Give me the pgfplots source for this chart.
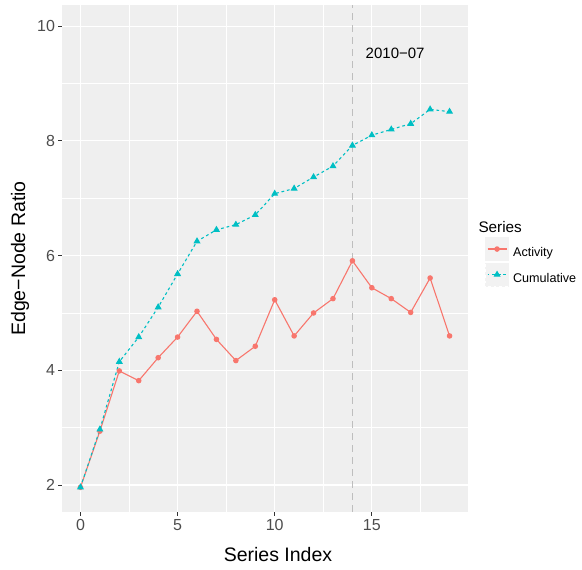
\documentclass[border=0pt]{standalone}
\usepackage{pgfplots}
\usepackage{pgfplotstable}
\pgfplotsset{compat=1.18}
\usepackage{fontspec}
\setmainfont{Liberation Sans}

\definecolor{panel}{HTML}{EFEFEF}
\definecolor{keybg}{HTML}{F2F2F2}
\definecolor{actcol}{HTML}{F8766D}
\definecolor{cumcol}{HTML}{00BFC4}
\definecolor{ticktext}{HTML}{4D4D4D}
\definecolor{tickmark}{HTML}{333333}
\definecolor{vline}{HTML}{BEBEBE}

% Edge-node ratio per snapshot: per-period activity and cumulative graph
\pgfplotstableread{
idx activity cumulative
0  1.96 1.96
1  2.94 2.97
2  3.99 4.15
3  3.82 4.58
4  4.22 5.10
5  4.58 5.68
6  5.03 6.25
7  4.54 6.45
8  4.17 6.54
9  4.42 6.71
10 5.23 7.08
11 4.60 7.17
12 5.00 7.37
13 5.25 7.56
14 5.91 7.92
15 5.44 8.10
16 5.25 8.20
17 5.01 8.30
18 5.61 8.55
19 4.60 8.51
}\ratios

\begin{document}
\begin{tikzpicture}
\begin{axis}[
  name=ax, at={(0,0)}, anchor=south west,
  scale only axis, width=406bp, height=507bp,
  xmin=-0.95, xmax=19.95, ymin=1.53, ymax=10.37,
  xtick={0,5,10,15}, ytick={2,4,6,8,10},
  minor xtick={2.5,7.5,12.5,17.5}, minor ytick={3,5,7,9},
  grid=both,
  major grid style={white, line width=1.1bp},
  minor grid style={white, line width=0.55bp},
  axis background/.style={fill=panel},
  axis line style={draw=none},
  tick pos=left, tick align=outside,
  major tick length=3.5bp, minor tick length=0pt,
  tick style={color=tickmark, line width=0.9bp},
  /pgf/number format/assume math mode=true,
  ticklabel style={font=\fontsize{16bp}{19bp}\selectfont, text=ticktext},
  xlabel={Series Index}, ylabel={Edge−Node Ratio},
  label style={font=\fontsize{19.5bp}{23bp}\selectfont},
  xlabel style={at={(axis description cs:0.532,-0.0986)}, anchor=base},
  ylabel style={at={(axis description cs:-0.0911,0.5)}, anchor=base},
  legend cell align=left,
  legend style={
    at={(axis description cs:1.0419,0.5424)}, anchor=north west,
    draw=none, fill=none, inner sep=0pt, outer sep=0pt,
    nodes={inner sep=0pt, font=\fontsize{12.6bp}{15bp}\selectfont},
    column sep=4bp, row sep=1.5bp},
  legend image code/.code={
    \fill[keybg] (0bp,-7.5bp) rectangle (23bp,15.5bp);
    \draw[mark repeat=2, mark phase=2, dash phase=1bp, #1]
      plot coordinates {(2bp,4bp) (11.5bp,4bp) (21bp,4bp)};
  },
]
% reference line at the 2010-07 snapshot
\addplot[vline, line width=1.1bp, dash pattern=on 7bp off 5bp, forget plot]
  coordinates {(14,1.53) (14,10.37)};

\addplot[actcol, line width=1.1bp,
  mark=*, mark size=2.2bp, mark options={solid, fill=actcol, draw=actcol}]
  table[x=idx, y=activity] {\ratios};
\addplot[cumcol, line width=1.1bp, dash pattern=on 2.8bp off 2.8bp,
  mark=triangle*, mark size=3bp, mark options={solid, fill=cumcol, draw=cumcol}]
  table[x=idx, y=cumulative] {\ratios};
\legend{Activity, Cumulative}

\node[font=\fontsize{15bp}{18bp}\selectfont, anchor=center]
  at (axis cs:16.2,9.53) {2010−07};
\end{axis}
% legend title
\node[font=\fontsize{15.3bp}{18bp}\selectfont, anchor=base west]
  at ([shift={(413bp,279bp)}]ax.south west) {Series};
\pgfresetboundingbox
\path[use as bounding box] ([shift={(-62bp,-58bp)}]ax.south west)
  rectangle ([shift={(114bp,5bp)}]ax.north east);
\end{tikzpicture}
\end{document}
